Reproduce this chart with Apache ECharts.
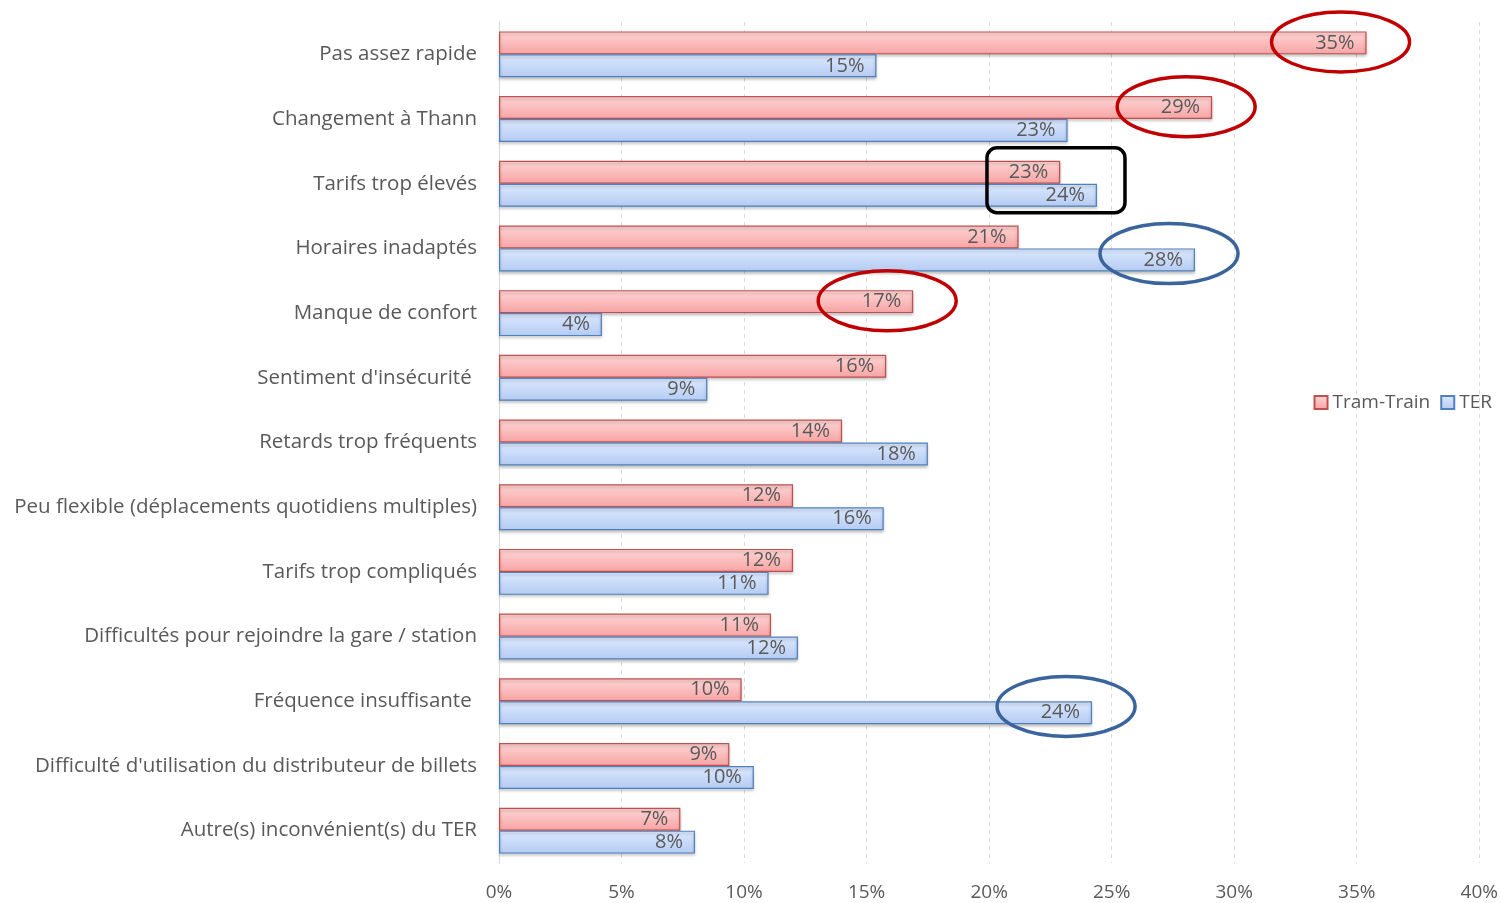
<!DOCTYPE html>
<html>
<head>
<meta charset="utf-8">
<script src="https://cdn.jsdelivr.net/npm/echarts@6/dist/echarts.min.js"></script>
<style>html,body{margin:0;padding:0;background:#fff}#c{width:1501px;height:903px}</style>
</head>
<body>
<div id="c"></div>
<script>
const categories = [
  "Pas assez rapide",
  "Changement à Thann",
  "Tarifs trop élevés",
  "Horaires inadaptés",
  "Manque de confort",
  "Sentiment d'insécurité ",
  "Retards trop fréquents",
  "Peu flexible (déplacements quotidiens multiples)",
  "Tarifs trop compliqués",
  "Difficultés pour rejoindre la gare / station",
  "Fréquence insuffisante ",
  "Difficulté d'utilisation du distributeur de billets",
  "Autre(s) inconvénient(s) du TER"
];
const tramTrain = [35.4, 29.1, 22.9, 21.2, 16.9, 15.8, 14.0, 12.0, 12.0, 11.1, 9.9, 9.4, 7.4];
const ter = [15.4, 23.2, 24.4, 28.4, 4.2, 8.5, 17.5, 15.7, 11.0, 12.2, 24.2, 10.4, 8.0];
const xTicks = [0, 5, 10, 15, 20, 25, 30, 35, 40];

// annotations: [series index, category index, kind]
const highlights = [
  [0, 0, 'red'], [0, 1, 'red'], [0, 4, 'red'],
  [1, 3, 'blue'], [1, 10, 'blue']
];
const boxed = [2];

const FONT = 'Open Sans';
const chart = echarts.init(document.getElementById('c'));
const labelCfg = {
  show: true, position: 'insideRight', distance: 12,
  color: '#595959', fontFamily: FONT, fontSize: 20,
  formatter: p => Math.round(p.value) + '%'
};
function grad(c1, c2) {
  return new echarts.graphic.LinearGradient(0, 0, 0, 1, [{offset: 0, color: c1}, {offset: 1, color: c2}]);
}
chart.setOption({
  animation: false,
  textStyle: {fontFamily: FONT},
  grid: {left: 499, right: 19, top: 22, bottom: 40, containLabel: false},
  legend: {
    right: 4, top: 388, itemWidth: 13, itemHeight: 13, itemGap: 10, icon: 'rect',
    textStyle: {color: '#595959', fontSize: 19, fontFamily: FONT},
    data: ['Tram-Train', 'TER']
  },
  xAxis: {
    type: 'value', min: 0, max: 40, interval: 5,
    axisLine: {show: false}, axisTick: {show: false},
    splitLine: {show: true, lineStyle: {color: '#d9d9d9', type: [4, 4]}},
    axisLabel: {color: '#595959', fontSize: 19, fontFamily: FONT, margin: 20,
      formatter: v => xTicks.includes(v) ? v + '%' : ''}
  },
  yAxis: {
    type: 'category', data: categories, inverse: true,
    axisLine: {show: true, lineStyle: {color: '#d9d9d9'}},
    axisTick: {show: false},
    axisLabel: {color: '#595959', fontSize: 20.5, fontFamily: FONT, margin: 22}
  },
  series: [
    {
      name: 'Tram-Train', type: 'bar', data: tramTrain,
      barGap: '0%', barCategoryGap: '29%',
      itemStyle: {color: grad('#ffd6d6', '#f7a3a3'), borderColor: '#c0504d', borderWidth: 1.2,
        shadowColor: 'rgba(0,0,0,0.25)', shadowBlur: 3, shadowOffsetY: 2},
      label: labelCfg
    },
    {
      name: 'TER', type: 'bar', data: ter,
      itemStyle: {color: grad('#dde9ff', '#b4cbf2'), borderColor: '#4f81bd', borderWidth: 1.2,
        shadowColor: 'rgba(0,0,0,0.25)', shadowBlur: 3, shadowOffsetY: 2},
      label: labelCfg
    }
  ]
});

// annotation shapes positioned through the chart's own scales
const graphics = [];
const band = chart.convertToPixel({yAxisIndex: 0}, 1) - chart.convertToPixel({yAxisIndex: 0}, 0);
highlights.forEach(([s, c, col]) => {
  const v = s === 0 ? tramTrain[c] : ter[c];
  const x = chart.convertToPixel({xAxisIndex: 0}, v);
  const yc = chart.convertToPixel({yAxisIndex: 0}, c);
  const y = s === 0 ? yc - band * 0.19 : yc + band * 0.08;
  graphics.push({
    type: 'ellipse', shape: {cx: x - 26, cy: y, rx: 69, ry: 30},
    style: {fill: 'none', stroke: col === 'red' ? '#c00000' : '#3a649c', lineWidth: 3.5}, z: 100
  });
});
boxed.forEach(c => {
  const m = Math.max(tramTrain[c], ter[c]);
  const x = chart.convertToPixel({xAxisIndex: 0}, m);
  const yc = chart.convertToPixel({yAxisIndex: 0}, c);
  graphics.push({
    type: 'rect', shape: {x: x - 110, y: yc - 36, width: 138, height: 65, r: 10},
    style: {fill: 'none', stroke: '#000', lineWidth: 3.5}, z: 100
  });
});
chart.setOption({graphic: graphics});
</script>
</body>
</html>
